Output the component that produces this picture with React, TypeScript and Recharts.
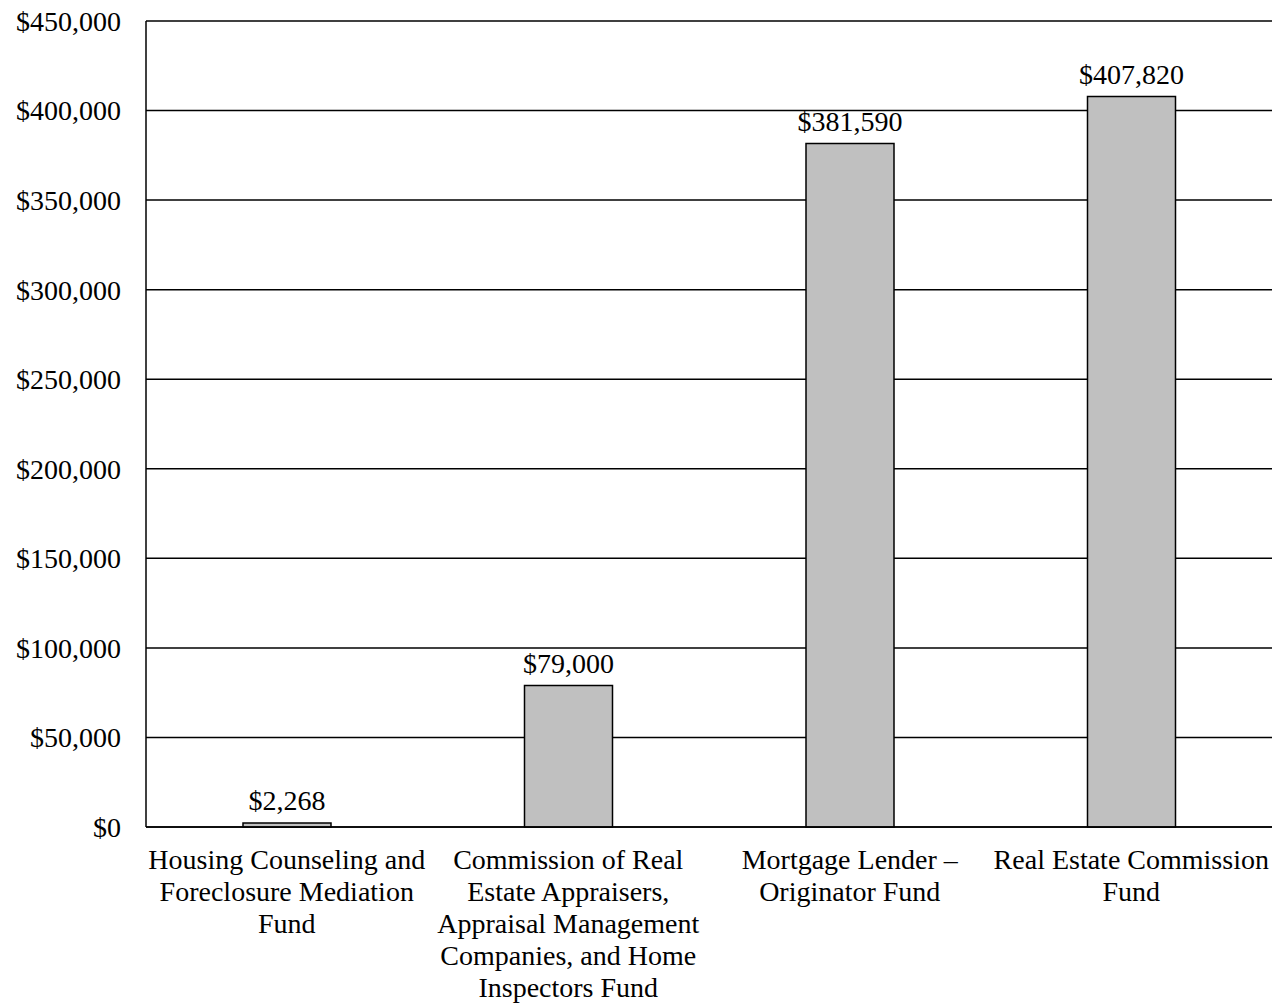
import React from 'react';
import { BarChart, Bar, XAxis, YAxis, CartesianGrid, LabelList } from 'recharts';

const categories = [
  'Housing Counseling and\nForeclosure Mediation\nFund',
  'Commission of Real\nEstate Appraisers,\nAppraisal Management\nCompanies, and Home\nInspectors Fund',
  'Mortgage Lender –\nOriginator Fund',
  'Real Estate Commission\nFund',
];
const amounts = [2268, 79000, 381590, 407820];
const yTicks = [0, 50000, 100000, 150000, 200000, 250000, 300000, 350000, 400000, 450000];

const data = categories.map((name, i) => ({ name, value: amounts[i] }));

const FONT = '"Liberation Serif", "Times New Roman", serif';
const money = (v: number) => `$${v.toLocaleString('en-US')}`;

const CategoryTick = (props: any) => {
  const { x, y, payload } = props;
  const lines = String(payload.value).split('\n');
  return (
    <g transform={`translate(${x},${y})`}>
      {lines.map((line, i) => (
        <text
          key={i}
          x={0}
          y={34 + i * 32}
          textAnchor="middle"
          fill="#000"
          fontSize={28}
          fontFamily={FONT}
        >
          {line}
        </text>
      ))}
    </g>
  );
};

export default function App() {
  return (
    <div style={{ position: 'absolute', left: 0, top: 0, background: '#fff' }}>
      <BarChart
        width={1274}
        height={1005}
        data={data}
        margin={{ top: 21, right: 2, bottom: 0, left: 0 }}
      >
        <CartesianGrid vertical={false} stroke="#000" strokeWidth={1.5} />
        <XAxis
          dataKey="name"
          height={178}
          interval={0}
          tickLine={false}
          axisLine={{ stroke: '#000', strokeWidth: 1.5 }}
          tick={<CategoryTick />}
        />
        <YAxis
          width={146}
          domain={[0, 450000]}
          ticks={yTicks}
          tickFormatter={money}
          tickLine={false}
          tickSize={0}
          tickMargin={25}
          axisLine={{ stroke: '#000', strokeWidth: 1.5 }}
          tick={{ fill: '#000', fontSize: 28, fontFamily: FONT }}
        />
        <Bar
          dataKey="value"
          fill="#c0c0c0"
          stroke="#000"
          strokeWidth={1.5}
          barSize={88}
          isAnimationActive={false}
        >
          <LabelList
            dataKey="value"
            position="top"
            offset={13}
            formatter={(v: any) => money(Number(v))}
            fill="#000"
            fontSize={28}
            fontFamily={FONT}
          />
        </Bar>
      </BarChart>
    </div>
  );
}
